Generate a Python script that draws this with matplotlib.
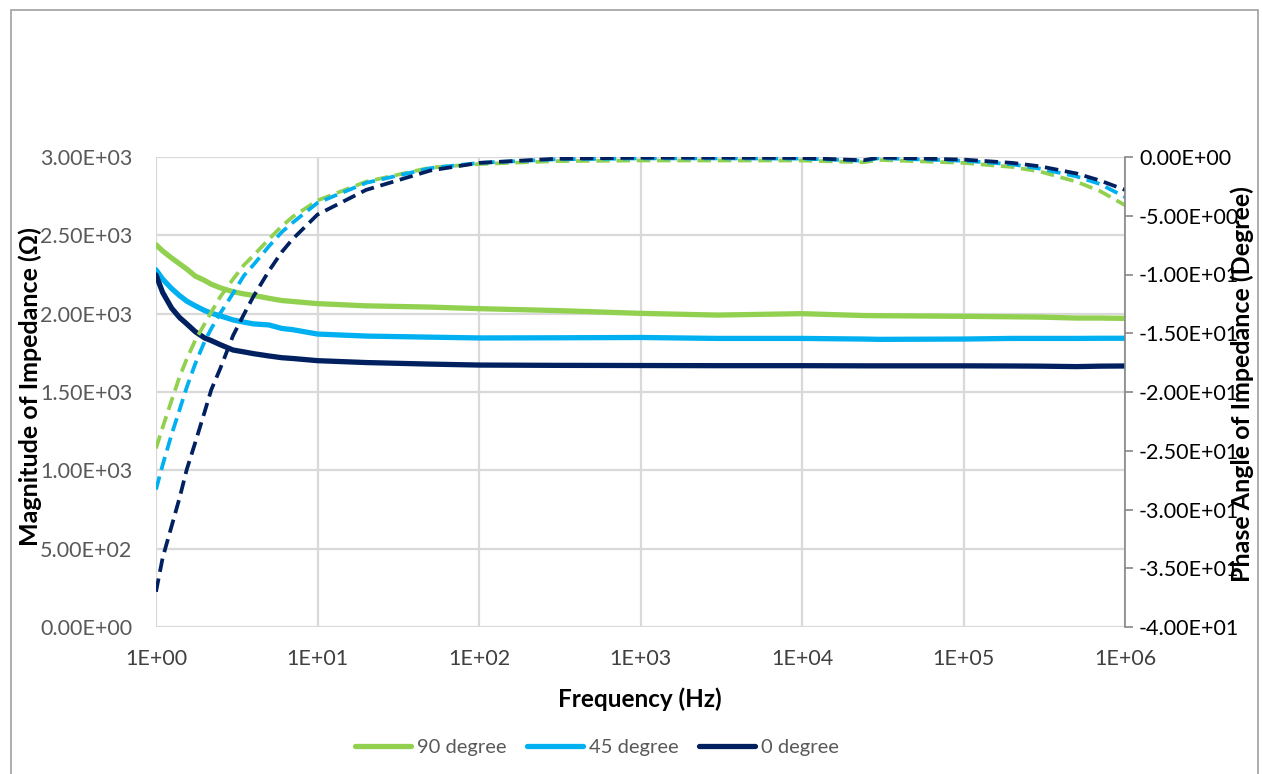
import matplotlib
matplotlib.use("Agg")
import matplotlib.pyplot as plt
from matplotlib.ticker import FuncFormatter, FixedLocator, NullLocator
from matplotlib.patches import Rectangle

plt.rcParams['font.family'] = ['Lato', 'DejaVu Sans']

# frequency points (Hz)
freq = [1, 1.1, 1.25, 1.4, 1.55, 1.75, 2, 2.2, 2.5, 3, 3.5, 4, 5, 6, 7, 10,
        20, 50, 100, 300, 1e3, 3e3, 1e4, 2.4e4, 3e4, 1e5, 2e5, 3e5, 5e5, 7e5, 1e6]

# magnitude of impedance (Ohm)
mag_90 = [2440, 2400, 2355, 2318, 2285, 2240, 2212, 2188, 2165, 2140, 2126, 2117, 2098, 2084, 2078, 2064,
          2050, 2042, 2032, 2020, 2002, 1991, 2000, 1988, 1987, 1983, 1980, 1978, 1972, 1972, 1970]
mag_45 = [2280, 2220, 2160, 2115, 2080, 2050, 2020, 2003, 1986, 1960, 1946, 1935, 1928, 1906, 1898, 1870,
          1857, 1850, 1845, 1846, 1848, 1842, 1842, 1838, 1836, 1838, 1842, 1842, 1842, 1843, 1843]
mag_0 = [2247, 2135, 2035, 1975, 1935, 1885, 1845, 1828, 1802, 1768, 1756, 1745, 1730, 1719, 1714, 1700,
         1688, 1678, 1672, 1670, 1669, 1668, 1668, 1667, 1667, 1667, 1666, 1665, 1662, 1665, 1666]

# phase angle (degree)
ph_90 = [-24.8, -23.0, -20.7, -18.7, -17.2, -15.6, -14.2, -13.2, -11.9, -10.4, -9.2, -8.4, -7.0, -5.9, -5.1, -3.7,
         -2.1, -0.9, -0.6, -0.35, -0.3, -0.3, -0.3, -0.45, -0.25, -0.5, -0.85, -1.25, -2.1, -2.9, -4.1]
ph_45 = [-28.3, -26.2, -23.6, -21.5, -19.6, -17.6, -15.7, -14.6, -13.3, -11.6, -10.1, -9.2, -7.6, -6.4, -5.6, -3.9,
         -2.2, -0.95, -0.5, -0.2, -0.12, -0.12, -0.14, -0.32, -0.1, -0.32, -0.62, -1.0, -1.65, -2.3, -3.4]
ph_0 = [-37.0, -34.1, -31.4, -29.0, -26.6, -24.3, -21.7, -19.8, -18.0, -15.2, -13.4, -11.9, -9.7, -8.1, -7.0, -4.9,
        -2.8, -1.15, -0.5, -0.15, -0.06, -0.06, -0.08, -0.28, -0.04, -0.22, -0.5, -0.8, -1.4, -2.0, -2.8]

labels = ['90 degree', '45 degree', '0 degree']
colors = ['#92D050', '#00B0F0', '#002060']

W, H = 1262, 774
fig = plt.figure(figsize=(W / 100, H / 100), dpi=100)
ax = fig.add_axes([156 / W, 1 - 627 / H, (1125 - 156) / W, (627 - 157) / H])
ax2 = ax.twinx()

# outer chart border
fig.patches.append(Rectangle((11 / W, -0.01), (1258 - 11) / W, 1 - 10 / H + 0.01,
                             transform=fig.transFigure, fill=False,
                             edgecolor='#A0A0A0', linewidth=1.2))

for m, lab, c in zip([mag_90, mag_45, mag_0], labels, colors):
    ax.plot(freq, m, color=c, linewidth=3.8, label=lab, solid_capstyle='round')
for p, c in zip([ph_90, ph_45, ph_0], colors):
    ax2.plot(freq, p, color=c, linewidth=2.7, dashes=(3.6, 1.8))

ax.set_xscale('log')
ax.set_xlim(1, 1e6)
ax.set_ylim(0, 3000)
ax2.set_ylim(-40, 0)

ax.xaxis.set_major_locator(FixedLocator([1, 10, 100, 1e3, 1e4, 1e5, 1e6]))
ax.xaxis.set_minor_locator(NullLocator())
ax.xaxis.set_major_formatter(FuncFormatter(lambda v, p: f"{v:.0E}"))
ax.set_yticks([0, 500, 1000, 1500, 2000, 2500, 3000])
ax.yaxis.set_major_formatter(FuncFormatter(lambda v, p: f"{v:.2E}"))
ax2.set_yticks([-40, -35, -30, -25, -20, -15, -10, -5, 0])
ax2.yaxis.set_major_formatter(FuncFormatter(lambda v, p: f"{v:.2E}"))

ax.grid(True, color='#D9D9D9', linewidth=1.6)
ax.set_axisbelow(True)
for s in ax.spines.values():
    s.set_visible(False)
for s in ['left', 'top', 'bottom']:
    ax2.spines[s].set_visible(False)
ax2.spines['right'].set_color('#868686')
ax2.spines['right'].set_linewidth(1.2)

ax.tick_params(axis='x', length=0, pad=16, labelsize=15.5, labelcolor='#404040')
ax.tick_params(axis='y', length=0, pad=17, labelsize=15.5, labelcolor='#595959')
ax2.tick_params(axis='y', length=6, width=1.2, color='#868686', direction='out',
                pad=4, labelsize=15.5, labelcolor='#000000')

fig.text(640 / W, 1 - 699 / H, 'Frequency (Hz)', ha='center', va='center',
         fontsize=17.5, fontweight='bold')
fig.text(30 / W, 1 - 387 / H, 'Magnitude of Impedance (\u03a9)', ha='center', va='center',
         rotation=90, fontsize=18, fontweight='bold')
fig.text(1242 / W, 1 - 384 / H, 'Phase Angle of Impedance (Degree)', ha='center', va='center',
         rotation=90, fontsize=18, fontweight='bold')

leg = fig.legend(loc='center', bbox_to_anchor=(597 / W, 1 - 747 / H), ncol=3, frameon=False,
                 fontsize=14.5, handlelength=2.8, handletextpad=0.3, columnspacing=1.0)
for t in leg.get_texts():
    t.set_color('#595959')

fig.savefig('out.png', dpi=100)
